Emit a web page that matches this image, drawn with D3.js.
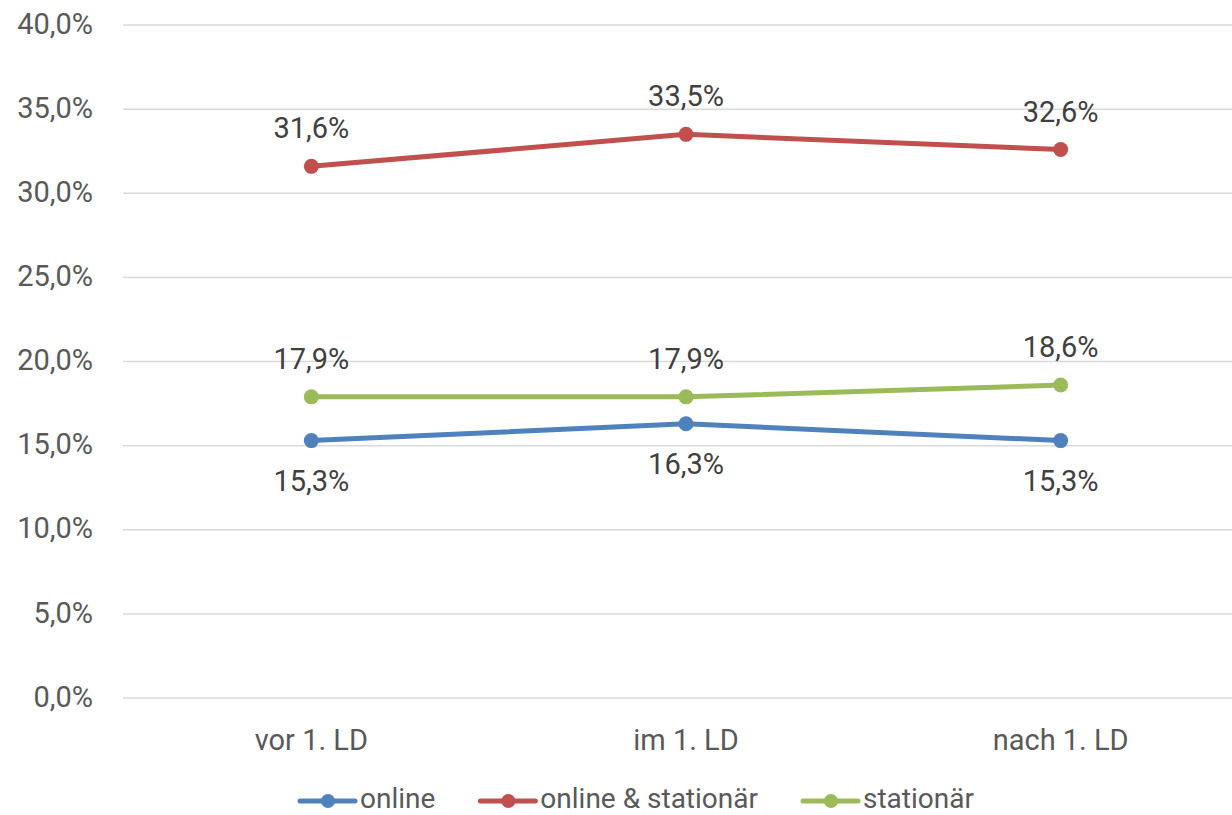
<!DOCTYPE html>
<html>
<head>
<meta charset="utf-8">
<script src="https://cdn.jsdelivr.net/npm/d3@7"></script>
<style>
  html, body { margin: 0; padding: 0; background: #fff; }
  svg { display: block; font-family: Roboto, "Liberation Sans", sans-serif; }
</style>
</head>
<body>
<svg id="chart" width="1232" height="815"></svg>
<script>
// Categories (periods) and series values in percent
const categories = ["vor 1. LD", "im 1. LD", "nach 1. LD"];
const online = [15.3, 16.3, 15.3];
const onlineStationaer = [31.6, 33.5, 32.6];
const stationaer = [17.9, 17.9, 18.6];
const seriesNames = ["online", "online & stationär", "stationär"];
const yTicks = [0, 5, 10, 15, 20, 25, 30, 35, 40];

const series = [
  { name: seriesNames[0], values: online, color: "#4F81BD", labelPos: "below" },
  { name: seriesNames[1], values: onlineStationaer, color: "#C0504D", labelPos: "above" },
  { name: seriesNames[2], values: stationaer, color: "#9BBB59", labelPos: "above" }
];

const svg = d3.select("#chart");
const plotLeft = 123, plotRight = 1232;

const x = d3.scaleBand().domain(categories).range([124, 1248]);
const y = d3.scaleLinear().domain([0, 40]).range([698, 25]);
const fmt = v => d3.format(".1f")(v).replace(".", ",") + "%";

// Horizontal gridlines
svg.append("g").selectAll("line").data(yTicks).join("line")
  .attr("x1", plotLeft).attr("x2", plotRight)
  .attr("y1", d => y(d)).attr("y2", d => y(d))
  .attr("stroke", "#D9D9D9").attr("stroke-width", 1.5);

// Y axis labels
svg.append("g").selectAll("text").data(yTicks).join("text")
  .attr("x", 93).attr("y", d => y(d)).attr("dy", "0.3em")
  .attr("text-anchor", "end")
  .attr("font-size", 29).attr("fill", "#595959")
  .text(d => fmt(d));

// Category labels
svg.append("g").selectAll("text").data(categories).join("text")
  .attr("x", d => x(d) + x.bandwidth() / 2).attr("y", 750)
  .attr("text-anchor", "middle")
  .attr("font-size", 29).attr("fill", "#595959")
  .text(d => d);

const cx = (d, i) => x(categories[i]) + x.bandwidth() / 2;
const line = d3.line().x(cx).y(d => y(d));

// Series lines, markers and value labels
series.forEach(s => {
  const g = svg.append("g");
  g.append("path").attr("d", line(s.values))
    .attr("fill", "none").attr("stroke", s.color)
    .attr("stroke-width", 5).attr("stroke-linecap", "round").attr("stroke-linejoin", "round");
  g.selectAll("circle").data(s.values).join("circle")
    .attr("cx", cx).attr("cy", d => y(d)).attr("r", 7.5).attr("fill", s.color);
  g.selectAll("text").data(s.values).join("text")
    .attr("x", cx)
    .attr("y", d => s.labelPos === "above" ? y(d) - 28 : y(d) + 50)
    .attr("text-anchor", "middle")
    .attr("font-size", 29).attr("fill", "#404040")
    .text(d => fmt(d));
});

// Legend
const legend = svg.append("g");
let lx = 300;
const ly = 801;
series.forEach(s => {
  const item = legend.append("g");
  item.append("line").attr("x1", lx).attr("x2", lx + 55).attr("y1", ly).attr("y2", ly)
    .attr("stroke", s.color).attr("stroke-width", 5).attr("stroke-linecap", "round");
  item.append("circle").attr("cx", lx + 28).attr("cy", ly).attr("r", 7).attr("fill", s.color);
  const t = item.append("text").attr("x", lx + 60).attr("y", 808)
    .attr("font-size", 28).attr("fill", "#595959").text(s.name);
  lx += 60 + t.node().getComputedTextLength() + 45;
});
</script>
</body>
</html>
